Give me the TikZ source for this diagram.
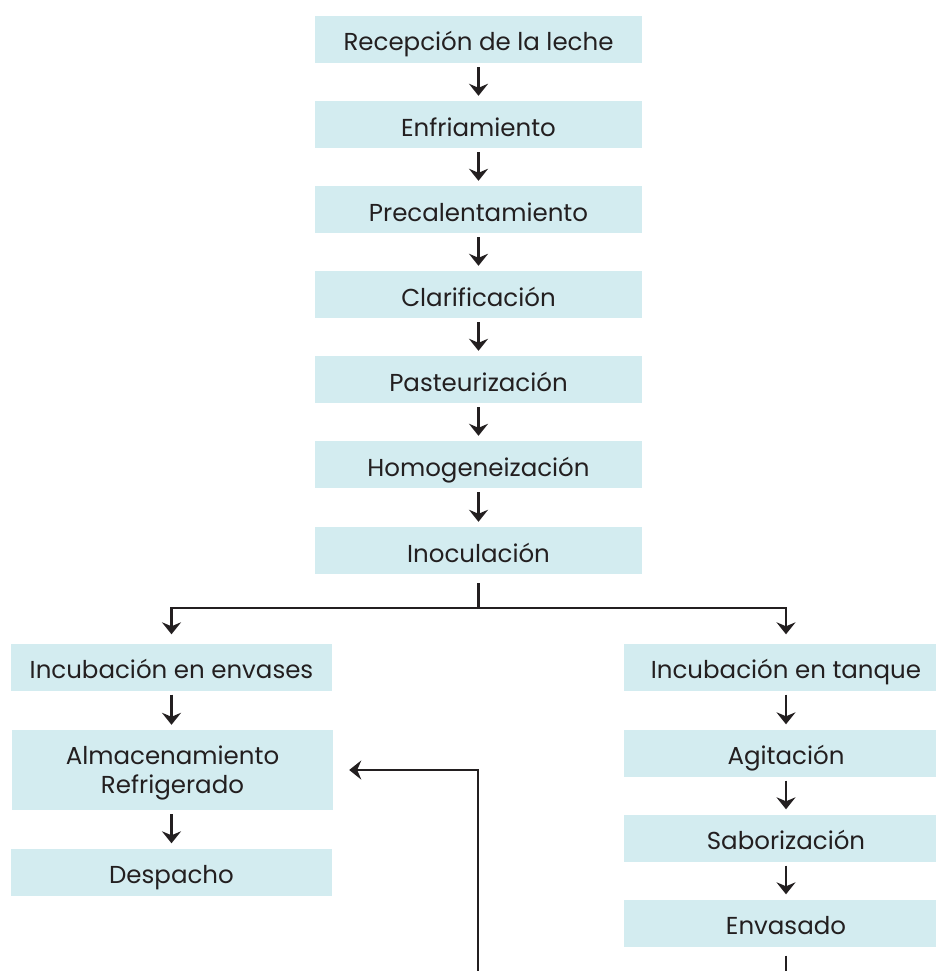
\documentclass[tikz,border=0pt]{standalone}
\usepackage{fontspec}
\setmainfont{Poppins}
\usetikzlibrary{arrows.meta}
\definecolor{boxfill}{HTML}{D3ECF0}
\definecolor{ink}{HTML}{231F20}
\begin{document}
\begin{tikzpicture}[x=1pt,y=1pt,
  stepbox/.style={fill=boxfill, draw=none, inner sep=0pt, minimum height=47pt,
    text=ink, font=\fontsize{24.5}{29}\selectfont, align=center,
    text height=23pt, text depth=0pt},
  topbox/.style={stepbox, minimum width=327pt},
  leftbox/.style={stepbox, minimum width=321pt},
  rightbox/.style={stepbox, minimum width=324pt},
  arr/.style={draw=ink, line width=2.5pt, -{Stealth[length=12pt,width=19pt,inset=4pt]}},
  ln/.style={draw=ink, line width=2.5pt}]
\useasboundingbox (0,0) rectangle (936,-971);
\begin{scope}
\clip (0,0) rectangle (936,-971);
% main column
\node[topbox] (rec) at (478.5,-39.5) {Recepción de la leche};
\node[topbox] (enf) at (478.5,-124.5) {Enfriamiento};
\node[topbox] (pre) at (478.5,-209.5) {Precalentamiento};
\node[topbox] (cla) at (478.5,-294.5) {Clarificación};
\node[topbox] (pas) at (478.5,-379.5) {Pasteurización};
\node[topbox] (hom) at (478.5,-464.5) {Homogeneización};
\node[topbox] (ino) at (478.5,-550.5) {Inoculación};
% left column
\node[leftbox] (ienv) at (171.5,-667) {Incubación en envases};
\node[leftbox, minimum height=80pt, text height=46pt] (alm) at (172.5,-770) {Almacenamiento\\Refrigerado};
\node[leftbox] (des) at (171.5,-872) {Despacho};
% right column
\node[rightbox] (itan) at (786,-667) {Incubación en tanque};
\node[rightbox] (agi) at (786,-753) {Agitación};
\node[rightbox] (sab) at (786,-838) {Saborización};
\node[rightbox] (env) at (786,-923) {Envasado};
\end{scope}
% main arrows
\foreach \a/\b in {rec/enf, enf/pre, pre/cla, cla/pas, pas/hom, hom/ino}{
  \draw[arr] ([yshift=-4pt]\a.south) -- ([yshift=5pt]\b.north);
}
% branch
\coordinate (split) at (478.5,-608);
\draw[ln] ([yshift=-9pt]ino.south) -- (split);
\draw[arr] (split) -| ([yshift=9pt]ienv.north);
\draw[arr] (split) -| ([yshift=9pt]itan.north);
% left arrows
\draw[arr] ([yshift=-4pt]ienv.south) -- ([yshift=5pt]ienv.south |- alm.north);
\draw[arr] ([yshift=-4pt]ienv.south |- alm.south) -- ([yshift=5pt]des.north);
% right arrows
\draw[arr] ([yshift=-4pt]itan.south) -- ([yshift=5pt]agi.north);
\draw[arr] ([yshift=-4pt]agi.south) -- ([yshift=5pt]sab.north);
\draw[arr] ([yshift=-4pt]sab.south) -- ([yshift=5pt]env.north);
% bottom ends
\coordinate (endr) at (786,-972);
\draw[ln] ([yshift=-9pt]env.south) -- (endr);
\coordinate (retstart) at (478,-972);
\draw[arr] (retstart) |- ([xshift=16pt]alm.east);
\end{tikzpicture}
\end{document}
